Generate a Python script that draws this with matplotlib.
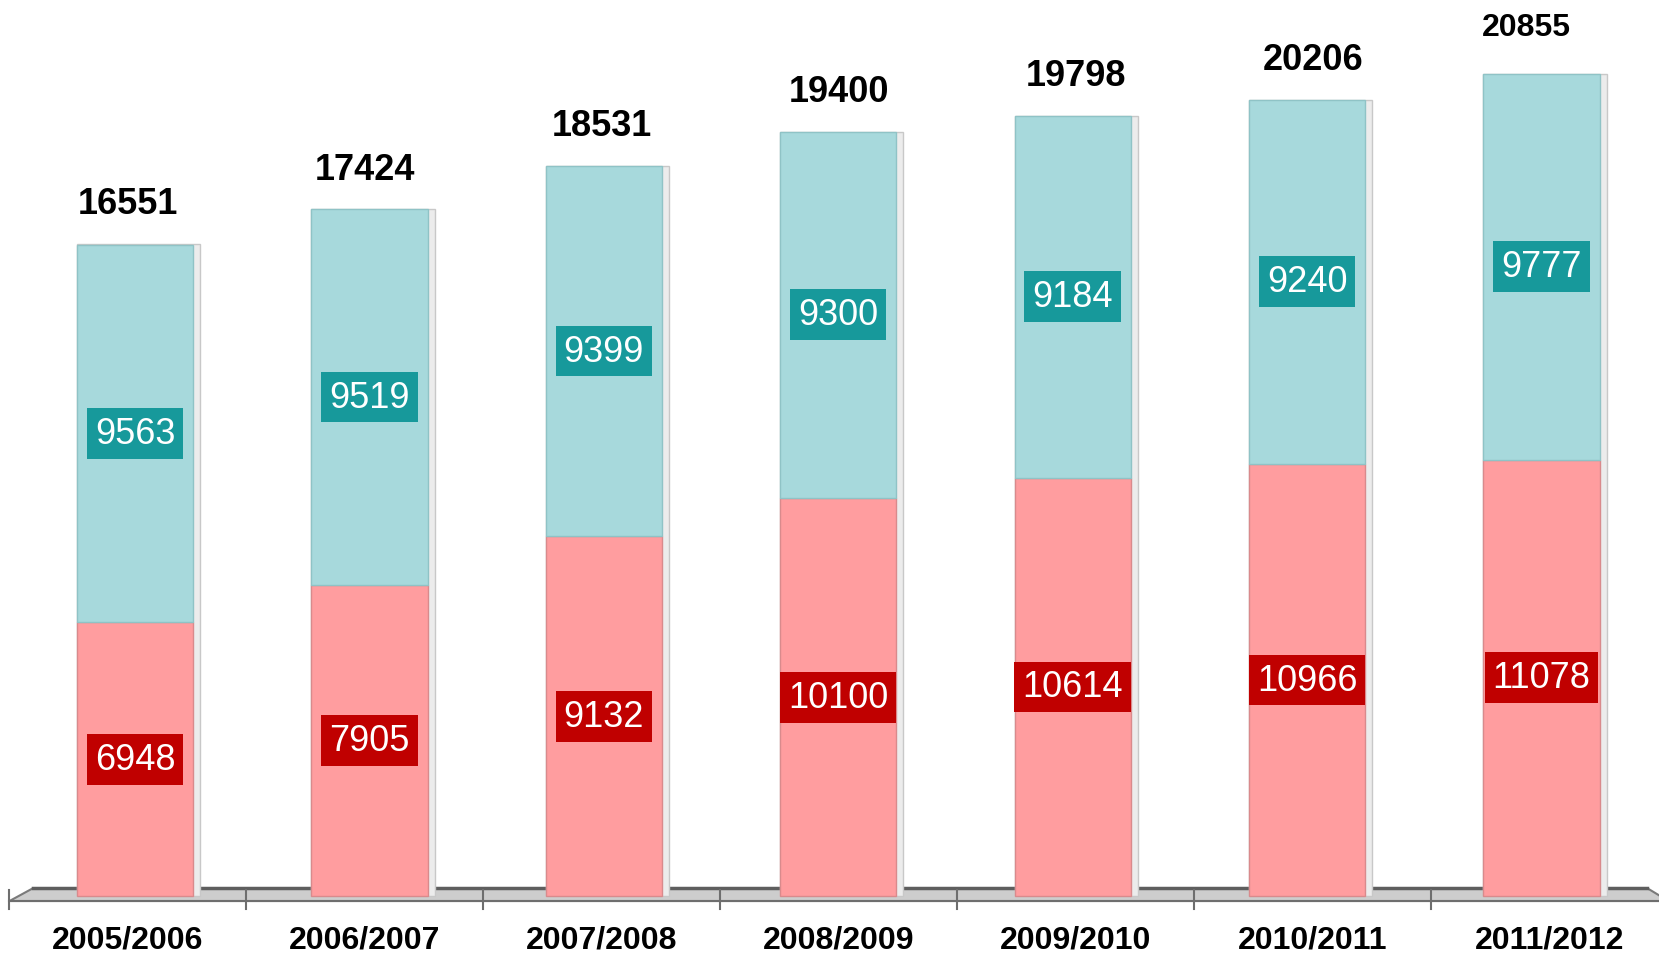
import matplotlib
matplotlib.use("Agg")
import matplotlib.pyplot as plt
from matplotlib.patches import Polygon
import numpy as np

plt.rcParams['font.family'] = ['Liberation Sans', 'DejaVu Sans']

seasons = ["2005/2006", "2006/2007", "2007/2008", "2008/2009",
           "2009/2010", "2010/2011", "2011/2012"]
red_vals = [6948, 7905, 9132, 10100, 10614, 10966, 11078]
cyan_vals = [9563, 9519, 9399, 9300, 9184, 9240, 9777]
totals = [16551, 17424, 18531, 19400, 19798, 20206, 20855]

PINK = "#ff9d9f"
CYAN = "#a7d9dc"
DARK_RED = "#c00000"
TEAL = "#17999b"

fig = plt.figure(figsize=(16.59, 9.54), dpi=100)
ax = fig.add_axes([0, 0, 1, 1])
ax.set_xlim(-0.540, 6.460)
ax.set_ylim(-1445, 22766)
ax.axis("off")

x = np.arange(len(seasons))
# bars sit a little inward from the category centres (perspective look)
bx = 0.03 + x * 0.989
width = 0.49

# floor of the pseudo-3D chart
floor = Polygon([(-0.5, -126), (-0.40, 202), (6.41, 202), (6.5, -126)],
                closed=True, facecolor="#cdcdcd", edgecolor="#7a7a7a",
                linewidth=1.5, zorder=1)
ax.add_patch(floor)
ax.plot([-0.40, 6.41], [202, 202], color="#5e5e5e", lw=2.5, zorder=1)
ax.plot([-0.5, 6.5], [-126, -126], color="#6e6e6e", lw=1.5, zorder=1)
for b in np.arange(-0.5, 7.0, 1.0):
    ax.plot([b, b], [150, -329], color="#6e6e6e", lw=1.5, zorder=1)

# light side slab behind each bar
ax.bar(bx + 0.015, totals, width=width + 0.03, color="#ececec",
       edgecolor="#c8c8c8", linewidth=1, zorder=2)

ax.bar(bx, red_vals, width=width, color=PINK, edgecolor="#d98a8c",
       linewidth=1, zorder=3)
ax.bar(bx, cyan_vals, width=width, bottom=red_vals, color=CYAN,
       edgecolor="#8fc3c6", linewidth=1, zorder=3)

for i in range(len(seasons)):
    ax.text(bx[i], red_vals[i] / 2, str(red_vals[i]), ha="center",
            va="center", color="white", fontsize=26, zorder=5,
            bbox=dict(boxstyle="square,pad=0.22", fc=DARK_RED, ec="none"))
    ax.text(bx[i], red_vals[i] + cyan_vals[i] / 2, str(cyan_vals[i]),
            ha="center", va="center", color="white", fontsize=26, zorder=5,
            bbox=dict(boxstyle="square,pad=0.22", fc=TEAL, ec="none"))
    small = i == len(seasons) - 1
    ax.annotate(str(totals[i]), (x[i] - (0.1 if small else 0), totals[i]),
                xytext=(0, 34 if small else 29), textcoords="offset points",
                ha="center", va="center", fontsize=23 if small else 26,
                fontweight="bold", color="black", zorder=5)
    ax.text(x[i], -1110, seasons[i], ha="center", va="center",
            fontsize=23, fontweight="bold", color="black", zorder=5)

fig.savefig("out.png", dpi=100, facecolor="white")
